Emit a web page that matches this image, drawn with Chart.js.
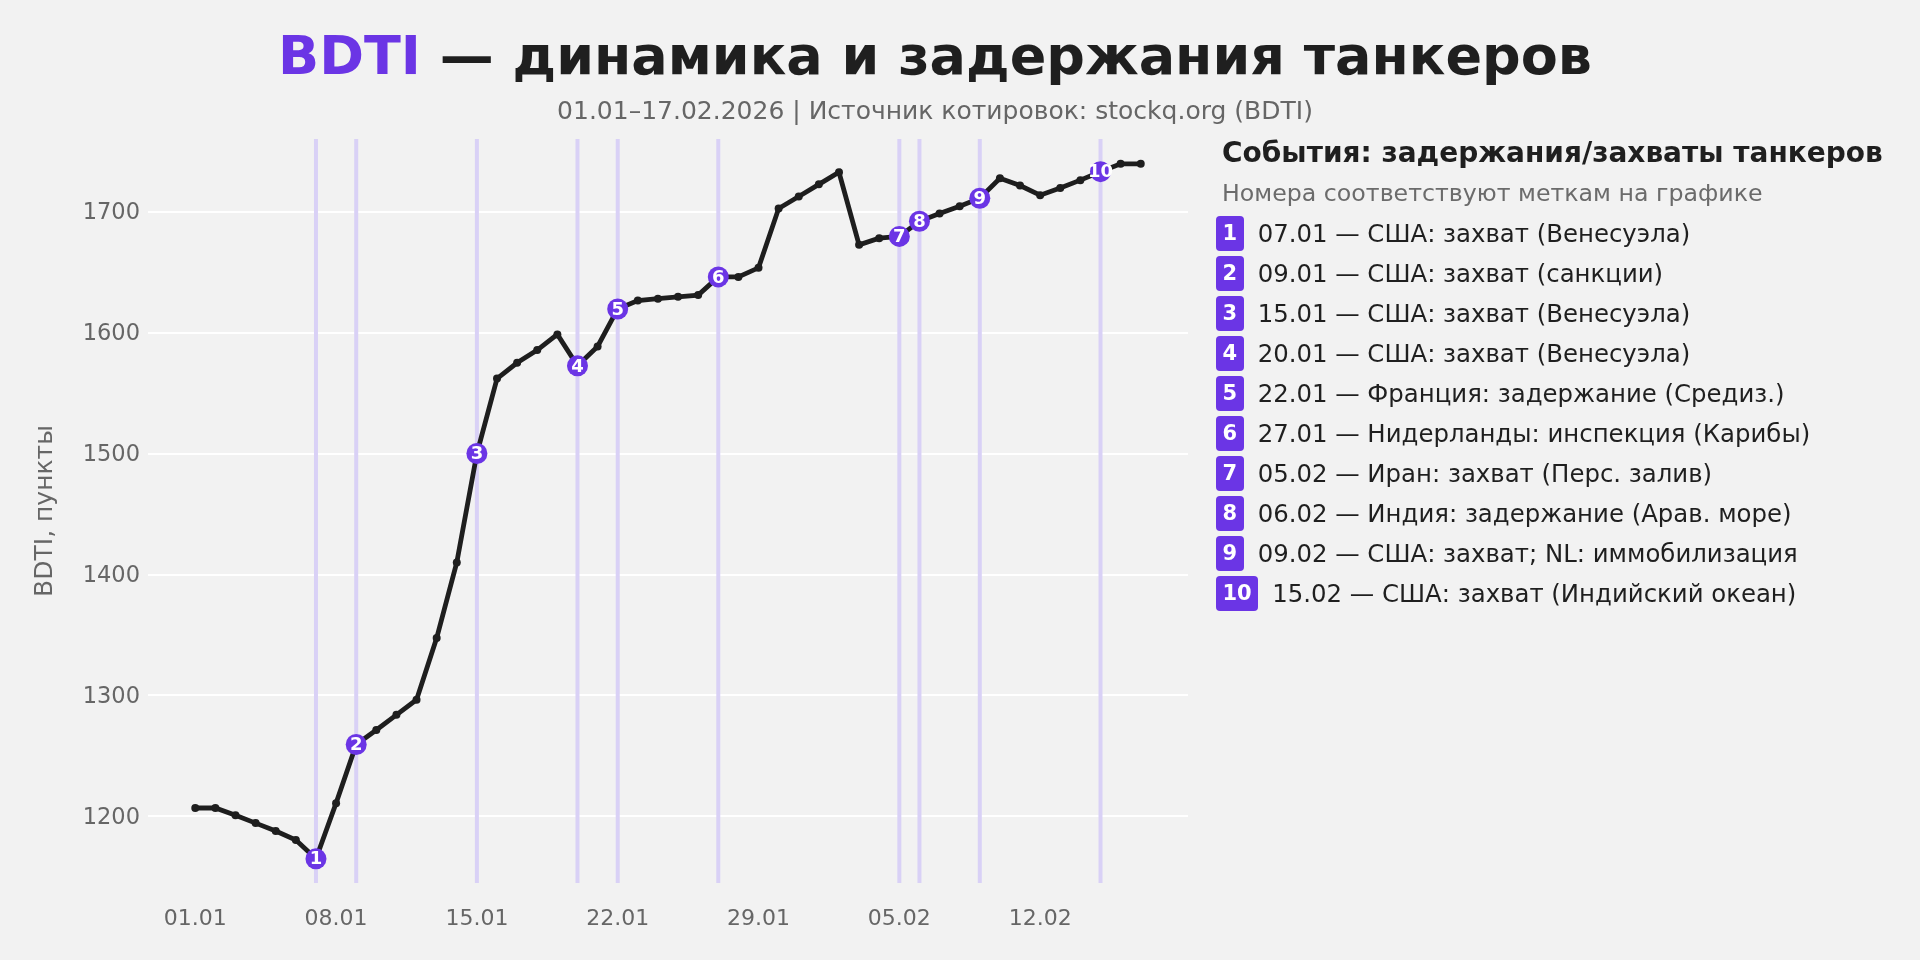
<!DOCTYPE html>
<html>
<head>
<meta charset="utf-8">
<script src="https://cdn.jsdelivr.net/npm/chart.js@4.4.1/dist/chart.umd.min.js"></script>
<style>
    body { margin:0; background:#f2f2f2; font-family:"DejaVu Sans", sans-serif; }
    #wrap { position:relative; width:1920px; height:960px; overflow:hidden; }
    #myChart { position:absolute; left:0; top:0; }
    .title { position:absolute; left:0; width:1870px; text-align:center; line-height:1.2; white-space:nowrap; }
    #main-title { top:24px; font-size:54px; font-weight:bold; color:#1f1f1f; }
    #main-title span { color:#6b35e5; }
    #sub-title { top:96px; font-size:25px; color:#666; }
    #events { position:absolute; left:1216px; top:0; }
    .events-head { position:absolute; left:6px; top:136px; font-size:28px; font-weight:bold; color:#1f1f1f; line-height:1.2; white-space:nowrap; }
    .events-sub { position:absolute; left:6px; top:179px; font-size:23.7px; color:#6b6b6b; line-height:1.2; white-space:nowrap; }
    .event-row { position:absolute; left:0; height:35px; display:flex; align-items:center; white-space:nowrap; }
    .badge { box-sizing:border-box; height:35px; padding:0 6.5px; border-radius:4px; background:#6b35e5;
             color:#fff; font-weight:bold; font-size:21px; display:flex; align-items:center; justify-content:center; }
    .event-text { margin-left:14px; font-size:24.4px; color:#1f1f1f; }
</style>
</head>
<body>
<div id="wrap">
    <canvas id="myChart" width="1920" height="960"></canvas>
    <div id="main-title" class="title"><span>BDTI</span> — динамика и задержания танкеров</div>
    <div id="sub-title" class="title">01.01–17.02.2026 | Источник котировок: stockq.org (BDTI)</div>
    <div id="events"></div>
</div>
<script>
// daily BDTI closes
const days = [
    "01.01","02.01","03.01","04.01","05.01","06.01","07.01","08.01","09.01","10.01",
    "11.01","12.01","13.01","14.01","15.01","16.01","17.01","18.01","19.01","20.01",
    "21.01","22.01","23.01","24.01","25.01","26.01","27.01","28.01","29.01","30.01",
    "31.01","01.02","02.02","03.02","04.02","05.02","06.02","07.02","08.02","09.02",
    "10.02","11.02","12.02","13.02","14.02","15.02","16.02","17.02"
];
const bdti = [
    1207, 1207, 1201, 1194.5, 1188, 1180.5, 1165, 1211, 1259.5, 1271.5,
    1284, 1296.5, 1347.5, 1410, 1500, 1562, 1575, 1585.5, 1598.5, 1572.5,
    1588.5, 1619.5, 1626.5, 1628, 1629.5, 1631, 1646, 1646, 1653.5, 1702.5,
    1712.5, 1722.5, 1732.5, 1672.5, 1678, 1679.5, 1692, 1698.5, 1704.5, 1711,
    1727.5, 1721.5, 1713.5, 1719.5, 1726, 1733, 1739.5, 1739.5
];
const xTickLabels = ["01.01","08.01","15.01","22.01","29.01","05.02","12.02"];
const yTicks = [1200, 1300, 1400, 1500, 1600, 1700];

const eventDates = ["07.01","09.01","15.01","20.01","22.01","27.01","05.02","06.02","09.02","15.02"];
const eventTexts = [
    "США: захват (Венесуэла)",
    "США: захват (санкции)",
    "США: захват (Венесуэла)",
    "США: захват (Венесуэла)",
    "Франция: задержание (Средиз.)",
    "Нидерланды: инспекция (Карибы)",
    "Иран: захват (Перс. залив)",
    "Индия: задержание (Арав. море)",
    "США: захват; NL: иммобилизация",
    "США: захват (Индийский океан)"
];

const PURPLE = "#6b35e5";
const INK = "#1e1e1e";

let ctx;
let myChart;

// event list on the right
function buildEvents(){
    let html = '<div class="events-head">События: задержания/захваты танкеров</div>' +
               '<div class="events-sub">Номера соответствуют меткам на графике</div>';
    eventDates.forEach(function (d, i){
        html += '<div class="event-row" style="top:' + (215.5 + i * 40) + 'px">' +
                    '<div class="badge">' + (i + 1) + '</div>' +
                    '<div class="event-text">' + d + ' — ' + eventTexts[i] + '</div>' +
                '</div>';
    });
    document.getElementById("events").innerHTML = html;
}

// vertical lines behind the series, numbers on top of the markers
const eventPlugin = {
    id: "events",
    beforeDatasetsDraw(chart){
        const c = chart.ctx, area = chart.chartArea, xs = chart.scales.x;
        c.save();
        c.strokeStyle = "#d9d1f6";
        c.lineWidth = 4;
        eventDates.forEach(function (d){
            const px = xs.getPixelForValue(days.indexOf(d));
            c.beginPath();
            c.moveTo(px, area.top);
            c.lineTo(px, area.bottom);
            c.stroke();
        });
        c.restore();
    },
    afterDatasetsDraw(chart){
        const c = chart.ctx;
        const meta = chart.getDatasetMeta(1);
        c.save();
        c.fillStyle = "#fff";
        c.font = "bold 18px 'DejaVu Sans'";
        c.textAlign = "center";
        c.textBaseline = "middle";
        meta.data.forEach(function (pt, i){
            c.fillText(String(i + 1), pt.x, pt.y + 1);
        });
        c.restore();
    }
};

buildEvents();

ctx = document.getElementById("myChart");
myChart = new Chart(ctx, {
    type: "line",
    data: {
        datasets: [{
            label: "BDTI",
            data: bdti.map((v, i) => ({x: i, y: v})),
            borderColor: INK,
            backgroundColor: INK,
            borderWidth: 4.8,
            pointRadius: 4,
            pointBorderWidth: 0,
            tension: 0,
            order: 2
        }, {
            label: "events",
            type: "scatter",
            data: eventDates.map(d => ({x: days.indexOf(d), y: bdti[days.indexOf(d)]})),
            backgroundColor: PURPLE,
            borderColor: PURPLE,
            pointRadius: 10.5,
            borderWidth: 0,
            order: 1
        }]
    },
    options: {
        responsive: false,
        animation: false,
        devicePixelRatio: 1,
        layout: { padding: { top: 139, right: 732, left: 0, bottom: 0 } },
        plugins: { legend: { display: false }, tooltip: { enabled: false } },
        scales: {
            x: {
                type: "linear",
                min: -2.35,
                max: 49.35,
                afterBuildTicks: function (scale){
                    scale.ticks = xTickLabels.map(l => ({value: days.indexOf(l)}));
                },
                afterFit: function (scale){ scale.height = 77; },
                ticks: {
                    color: "#666",
                    font: { family: "DejaVu Sans", size: 22 },
                    padding: 15,
                    maxRotation: 0,
                    callback: function (v){ return days[v]; }
                },
                grid: { display: false },
                border: { display: false }
            },
            y: {
                min: 1145,
                max: 1760,
                afterBuildTicks: function (scale){
                    scale.ticks = yTicks.map(v => ({value: v}));
                },
                afterFit: function (scale){ scale.width = 148; },
                ticks: {
                    color: "#666",
                    font: { family: "DejaVu Sans", size: 22.5 },
                    padding: 8,
                    labelOffset: 2,
                    callback: function (v){ return String(v); }
                },
                grid: { color: "#ffffff", lineWidth: 2, drawTicks: false },
                border: { display: false },
                title: {
                    display: true,
                    text: "BDTI, пункты",
                    color: "#666",
                    font: { family: "DejaVu Sans", size: 25 },
                    padding: { top: 30, bottom: 0 }
                }
            }
        }
    },
    plugins: [eventPlugin]
});
</script>
</body>
</html>
